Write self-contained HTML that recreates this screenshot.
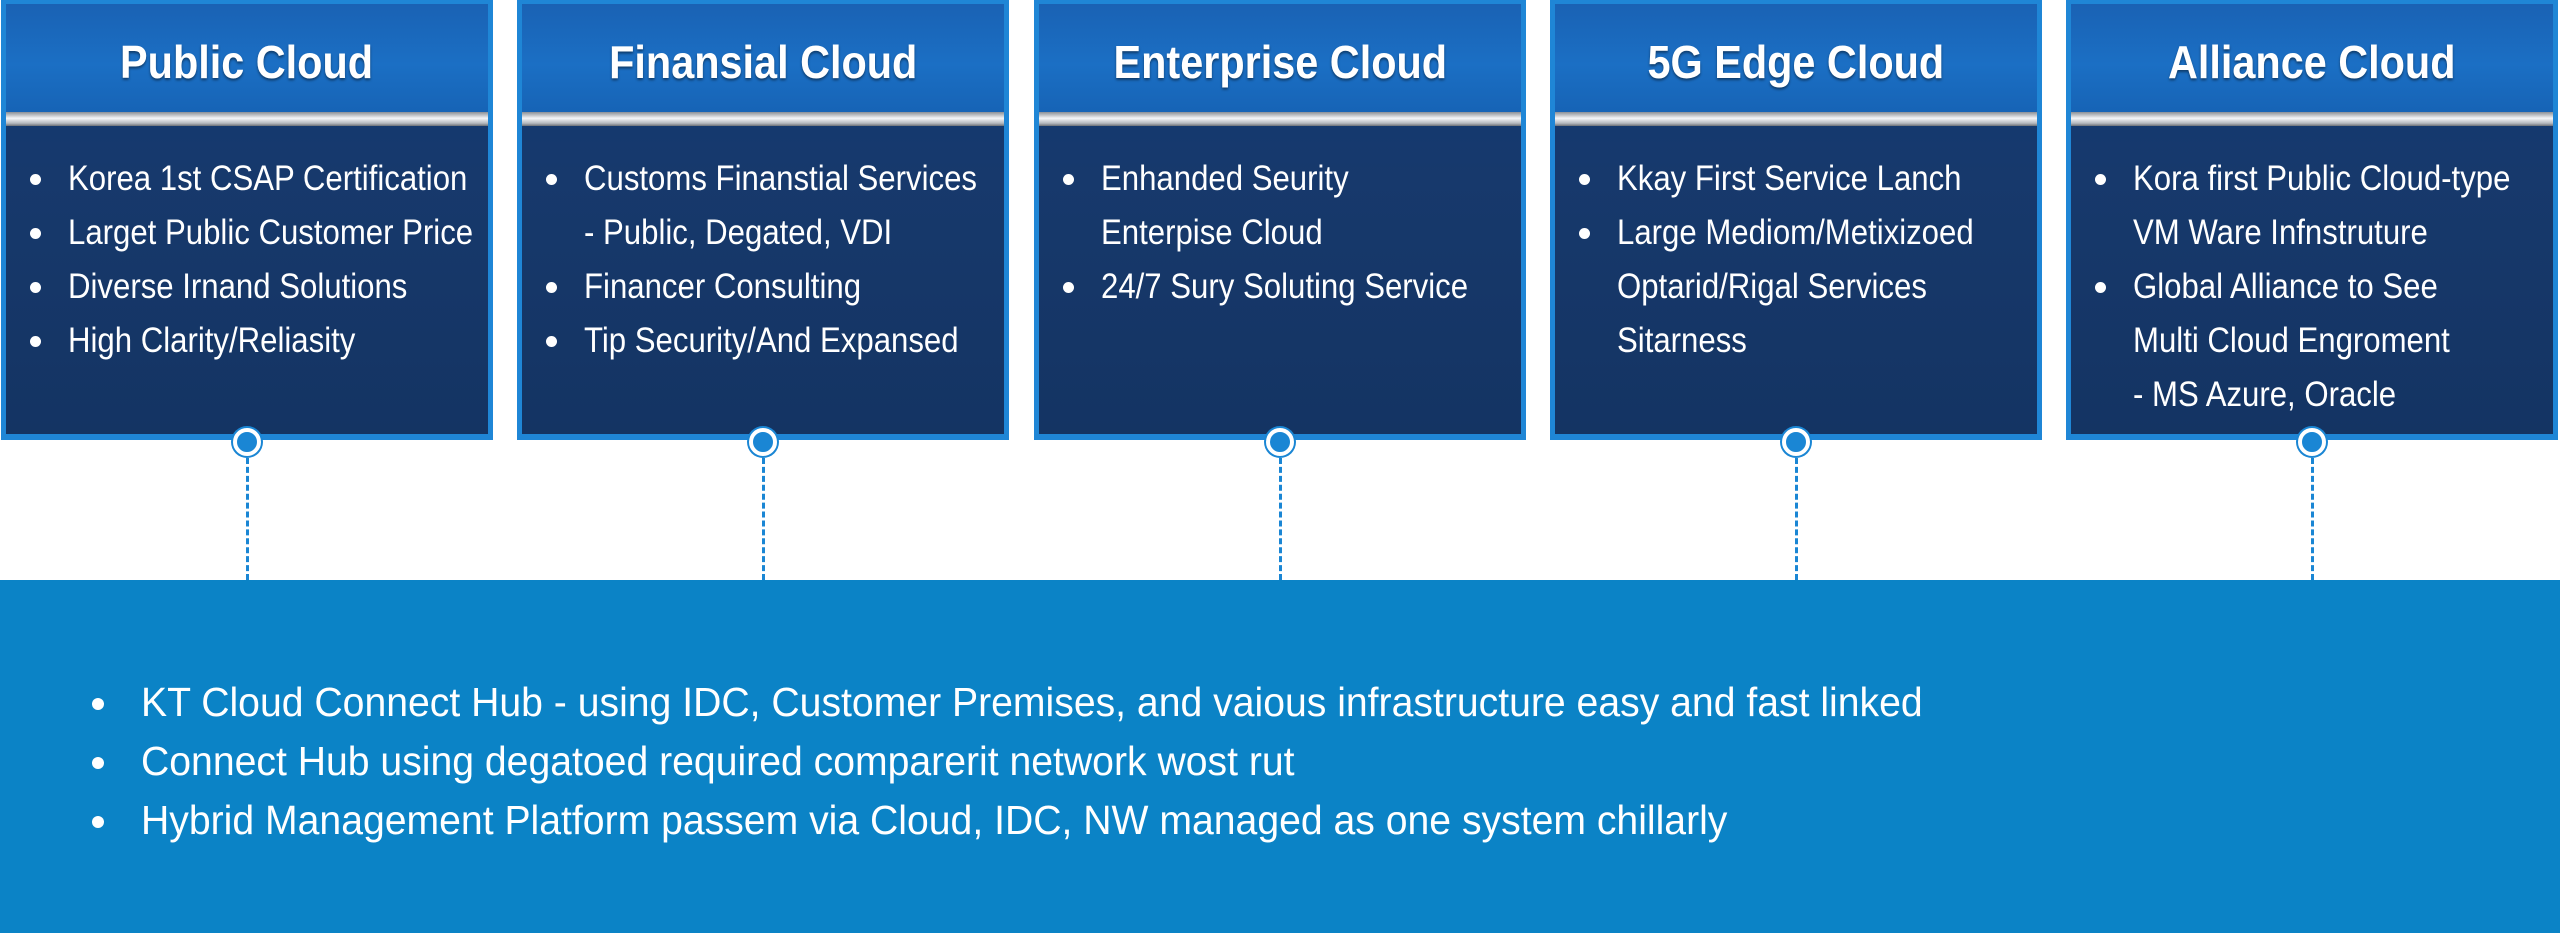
<!DOCTYPE html>
<html><head><meta charset="utf-8">
<style>
*{margin:0;padding:0;box-sizing:border-box}
body{width:2560px;height:933px;background:#fff;position:relative;overflow:hidden;font-family:"Liberation Sans",sans-serif;}
.card{position:absolute;top:0;width:492px;height:440px;background:#1f86d6;padding:4px 5px 6px 5px}
.in{position:relative;width:100%;height:100%;background:linear-gradient(180deg,#0f3a75 0%,#17396c 40%,#143463 100%);overflow:hidden}
.hd{position:absolute;left:0;top:0;right:0;height:110px;background:linear-gradient(180deg,#1a62b4 0%,#1b6fc4 55%,#1663b5 100%);text-align:center}
.hd span{display:inline-block;margin-top:31px;color:#fff;font-weight:bold;font-size:46px;text-shadow:0 2px 3px rgba(0,0,0,.45);transform:scaleX(0.9)}
.bar{position:absolute;left:0;right:0;top:108px;height:14px;background:linear-gradient(180deg,#8a8f96,#f4f6f8 45%,#b5b9bf 80%,#6b7077)}
ul{position:absolute;left:0;top:148px;list-style:none;color:#fff;font-size:35px;line-height:54px}
li{position:relative;padding-left:62px;white-space:nowrap}
li span{display:inline-block;transform:scaleX(0.89);transform-origin:left center}
li.b:before{content:"";position:absolute;left:24px;top:22px;width:11px;height:11px;border-radius:50%;background:#fff}
.dot{position:absolute;top:428px;width:28px;height:28px;border-radius:50%;background:#1a86d4;border:4px solid #fff;box-shadow:0 0 0 2px #1a86d4}
.dl{position:absolute;top:458px;height:122px;width:0;border-left:3px dashed #1a86d4}
.band{position:absolute;left:0;top:580px;width:2560px;height:353px;background:#0b83c6}
.band ul{top:93px;left:0;font-size:41px;line-height:59px}
.band li{padding-left:141px}
.band li span{transform:scaleX(0.955)}
.band li.b:before{left:92px;top:25px;width:12px;height:12px}
</style></head><body>

<div class="card" style="left:1px"><div class="in"><div class="hd"><span>Public Cloud</span></div><div class="bar"></div>
<ul><li class="b"><span>Korea 1st CSAP Certification</span></li><li class="b"><span>Larget Public Customer Price</span></li><li class="b"><span>Diverse Irnand Solutions</span></li><li class="b"><span>High Clarity/Reliasity</span></li></ul></div></div>

<div class="card" style="left:517px"><div class="in"><div class="hd"><span>Finansial Cloud</span></div><div class="bar"></div>
<ul><li class="b"><span>Customs Finanstial Services</span></li><li><span>- Public, Degated, VDI</span></li><li class="b"><span>Financer Consulting</span></li><li class="b"><span>Tip Security/And Expansed</span></li></ul></div></div>

<div class="card" style="left:1034px"><div class="in"><div class="hd"><span>Enterprise Cloud</span></div><div class="bar"></div>
<ul><li class="b"><span>Enhanded Seurity</span></li><li><span>Enterpise Cloud</span></li><li class="b"><span>24/7 Sury Soluting Service</span></li></ul></div></div>

<div class="card" style="left:1550px"><div class="in"><div class="hd"><span>5G Edge Cloud</span></div><div class="bar"></div>
<ul><li class="b"><span>Kkay First Service Lanch</span></li><li class="b"><span>Large Mediom/Metixizoed</span></li><li><span>Optarid/Rigal Services</span></li><li><span>Sitarness</span></li></ul></div></div>

<div class="card" style="left:2066px"><div class="in"><div class="hd"><span>Alliance Cloud</span></div><div class="bar"></div>
<ul><li class="b"><span>Kora first Public Cloud-type</span></li><li><span>VM Ware Infnstruture</span></li><li class="b"><span>Global Alliance to See</span></li><li><span>Multi Cloud Engroment</span></li><li><span>- MS Azure, Oracle</span></li></ul></div></div>

<div class="dot" style="left:233px"></div><div class="dl" style="left:246px"></div>
<div class="dot" style="left:749px"></div><div class="dl" style="left:762px"></div>
<div class="dot" style="left:1266px"></div><div class="dl" style="left:1279px"></div>
<div class="dot" style="left:1782px"></div><div class="dl" style="left:1795px"></div>
<div class="dot" style="left:2298px"></div><div class="dl" style="left:2311px"></div>

<div class="band"><ul>
<li class="b"><span>KT Cloud Connect Hub - using IDC, Customer Premises, and vaious infrastructure easy and fast linked</span></li>
<li class="b"><span>Connect Hub using degatoed required comparerit network wost rut</span></li>
<li class="b"><span>Hybrid Management Platform passem via Cloud, IDC, NW managed as one system chillarly</span></li>
</ul></div>
</body></html>
